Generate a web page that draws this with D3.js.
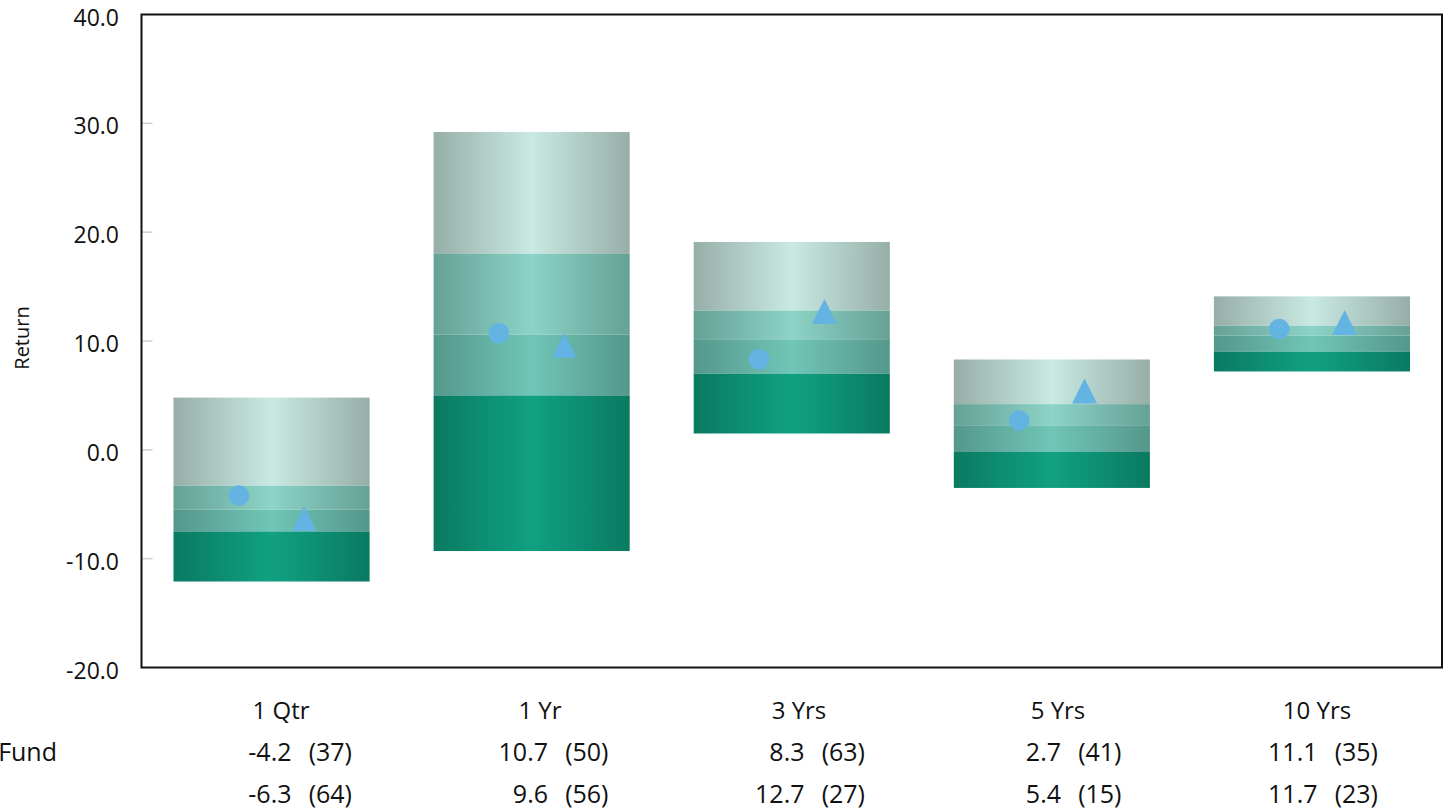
<!DOCTYPE html>
<html>
<head>
<meta charset="utf-8">
<script src="https://cdn.jsdelivr.net/npm/d3@7"></script>
<style>
  html, body { margin: 0; padding: 0; background: #fff; }
  svg { display: block; font-family: "Open Sans", "Noto Sans", sans-serif; }
</style>
</head>
<body>
<svg id="chart" width="1449" height="810"></svg>
<script>
// ---- data ----
const categories = ["1 Qtr", "1 Yr", "3 Yrs", "5 Yrs", "10 Yrs"];
const p05 = [4.8, 29.2, 19.1, 8.3, 14.1];    // top of bar
const p25 = [-3.3, 18.0, 12.8, 4.2, 11.4];
const p50 = [-5.5, 10.6, 10.1, 2.2, 10.5];
const p75 = [-7.5, 5.0, 7.0, -0.2, 9.0];
const p95 = [-12.1, -9.3, 1.5, -3.5, 7.2];   // bottom of bar
const fundValues = [-4.2, 10.7, 8.3, 2.7, 11.1];
const fundRanks = [37, 50, 63, 41, 35];
const benchValues = [-6.3, 9.6, 12.7, 5.4, 11.7];
const benchRanks = [64, 56, 27, 15, 23];
const rowLabels = ["Fund", ""];
const yTicks = [-20, -10, 0, 10, 20, 30, 40];
const yLabel = "Return";

// ---- layout ----
const svg = d3.select("#chart");
const pLeft = 141.5, pRight = 1442, pTop = 14.5, pBottom = 667.5;

const x = d3.scaleBand().domain(categories).range([pLeft, pRight])
  .paddingInner(0.246).paddingOuter(0.123);
const y = d3.scaleLinear().domain([-20, 40]).range([pBottom, pTop]);

// gradients
const defs = svg.append("defs");
const bandColors = [
  { id: "g0", edge: "#97aea8", mid: "#c9e9e3" },
  { id: "g1", edge: "#66a195", mid: "#8dd3c7" },
  { id: "g2", edge: "#55978b", mid: "#70c6b6" },
  { id: "g3", edge: "#0a7a62", mid: "#10a181" }
];
bandColors.forEach(c => {
  const g = defs.append("linearGradient").attr("id", c.id)
    .attr("x1", "0%").attr("x2", "100%").attr("y1", "0%").attr("y2", "0%");
  g.append("stop").attr("offset", "0%").attr("stop-color", c.edge);
  g.append("stop").attr("offset", "50%").attr("stop-color", c.mid);
  g.append("stop").attr("offset", "100%").attr("stop-color", c.edge);
});

// bars
const segs = [];
categories.forEach((cat, i) => {
  const bounds = [p05[i], p25[i], p50[i], p75[i], p95[i]];
  for (let k = 0; k < 4; k++) segs.push({ cat, hi: bounds[k], lo: bounds[k + 1], k });
});
svg.append("g").selectAll("rect").data(segs).join("rect")
  .attr("x", d => x(d.cat))
  .attr("width", x.bandwidth())
  .attr("y", d => y(d.hi))
  .attr("height", d => y(d.lo) - y(d.hi))
  .attr("fill", d => `url(#${bandColors[d.k].id})`);

// ticks
svg.append("g").selectAll("line").data(yTicks.slice(1, -1)).join("line")
  .attr("x1", pLeft).attr("x2", pLeft + 11)
  .attr("y1", d => y(d)).attr("y2", d => y(d))
  .attr("stroke", "#cfcfcf").attr("stroke-width", 1.5);

// frame
svg.append("rect").attr("x", pLeft).attr("y", pTop)
  .attr("width", pRight - pLeft).attr("height", pBottom - pTop)
  .attr("fill", "none").attr("stroke", "#111").attr("stroke-width", 2);

// y tick labels
svg.append("g").selectAll("text").data(yTicks).join("text")
  .attr("x", 119).attr("y", d => y(d) + 3)
  .attr("dy", "0.35em").attr("text-anchor", "end")
  .attr("font-size", 23).attr("fill", "#111")
  .text(d => d.toFixed(1));

svg.append("text")
  .attr("transform", "translate(29,338) rotate(-90)")
  .attr("text-anchor", "middle").attr("font-size", 20).attr("fill", "#111")
  .text(yLabel);

// markers
const markerColor = "#63b3e3";
const mk = svg.append("g");
mk.selectAll("circle").data(categories).join("circle")
  .attr("cx", d => x(d) + x.bandwidth() / 3)
  .attr("cy", (d, i) => y(fundValues[i]))
  .attr("r", 10.3).attr("fill", markerColor);
mk.selectAll("path").data(categories).join("path")
  .attr("d", (d, i) => {
    const cx = x(d) + x.bandwidth() * 2 / 3, cy = y(benchValues[i]);
    return `M${cx},${cy - 12.5}L${cx + 12.5},${cy + 12.5}L${cx - 12.5},${cy + 12.5}Z`;
  })
  .attr("fill", markerColor);

// table below
const catX = d3.scalePoint().domain(categories).range([281, 1317]);
const colEnd = d3.scalePoint().domain(categories).range([352, 1378]);
const tbl = svg.append("g").attr("font-size", 24).attr("fill", "#111");
tbl.selectAll("text.cat").data(categories).join("text").attr("class", "cat")
  .attr("x", d => catX(d)).attr("y", 719).attr("text-anchor", "middle").text(d => d);
const gap = "\u00a0\u00a0";
[[fundValues, fundRanks, 761], [benchValues, benchRanks, 803]].forEach(([vals, ranks, yy], r) => {
  tbl.append("g").attr("font-size", 25).selectAll("text").data(categories).join("text")
    .attr("x", d => colEnd(d)).attr("y", yy).attr("text-anchor", "end")
    .text((d, i) => `${vals[i].toFixed(1)}${gap}\u2009(${ranks[i]})`);
  tbl.append("text").attr("x", 57).attr("y", yy).attr("text-anchor", "end")
    .attr("font-size", 25).text(rowLabels[r]);
});
</script>
</body>
</html>
